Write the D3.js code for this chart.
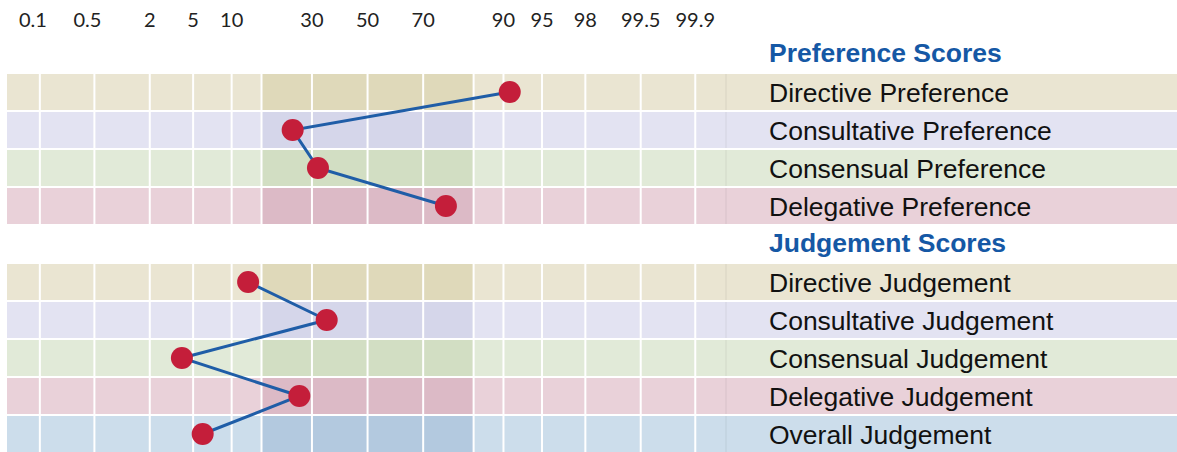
<!DOCTYPE html>
<html>
<head>
<meta charset="utf-8">
<script src="https://cdn.jsdelivr.net/npm/d3@7"></script>
<style>
  body { margin: 0; background: #fff; }
  svg { display: block; }
</style>
</head>
<body>
<div id="chart"></div>
<script>
// percentile values
const prefLabels = ['Directive Preference', 'Consultative Preference', 'Consensual Preference', 'Delegative Preference'];
const prefValues = [91, 24, 32, 77];
const judgeLabels = ['Directive Judgement', 'Consultative Judgement', 'Consensual Judgement', 'Delegative Judgement', 'Overall Judgement'];
const judgeValues = [13, 35, 4, 26, 6];
const groupTitles = ['Preference Scores', 'Judgement Scores'];
const tickValues = [0.1, 0.5, 2, 5, 10, 30, 50, 70, 90, 95, 98, 99.5, 99.9];
const bandEdges = [-1, 1]; // mean +/- 1 sd, in z units

const WIDTH = 1177, HEIGHT = 452;
const GRID_LEFT = 7, GRID_RIGHT = 726, LABEL_X = 769;

const palette = {
  Directive: { light: '#EAE5D2', dark: '#DFD9BA' },
  Consultative: { light: '#E3E3F2', dark: '#D5D6EA' },
  Consensual: { light: '#E1EAD8', dark: '#D2DEC3' },
  Delegative: { light: '#E9D1D9', dark: '#DCBAC6' },
  Overall: { light: '#CCDDEB', dark: '#B3C9DF' }
};

// inverse normal cdf (Acklam)
function probit(p) {
  const a = [-3.969683028665376e+01, 2.209460984245205e+02, -2.759285104469687e+02, 1.383577518672690e+02, -3.066479806614716e+01, 2.506628277459239e+00];
  const b = [-5.447609879822406e+01, 1.615858368580409e+02, -1.556989798598866e+02, 6.680131188771972e+01, -1.328068155288572e+01];
  const c = [-7.784894002430293e-03, -3.223964580411365e-01, -2.400758277161838e+00, -2.549671084180743e+00, 4.374664141464968e+00, 2.938163982698783e+00];
  const d = [7.784695709041462e-03, 3.224671290700398e-01, 2.445134137142996e+00, 3.754408661907416e+00];
  const pl = 0.02425;
  let q, r;
  if (p < pl) {
    q = Math.sqrt(-2 * Math.log(p));
    return (((((c[0]*q+c[1])*q+c[2])*q+c[3])*q+c[4])*q+c[5]) / ((((d[0]*q+d[1])*q+d[2])*q+d[3])*q+1);
  }
  if (p <= 1 - pl) {
    q = p - 0.5; r = q * q;
    return (((((a[0]*r+a[1])*r+a[2])*r+a[3])*r+a[4])*r+a[5])*q / (((((b[0]*r+b[1])*r+b[2])*r+b[3])*r+b[4])*r+1);
  }
  q = Math.sqrt(-2 * Math.log(1 - p));
  return -(((((c[0]*q+c[1])*q+c[2])*q+c[3])*q+c[4])*q+c[5]) / ((((d[0]*q+d[1])*q+d[2])*q+d[3])*q+1);
}

const x = d3.scaleLinear().domain([-3.40, 3.38]).range([GRID_LEFT, GRID_RIGHT]);
const xp = v => x(probit(v / 100));

const rowKeys = ['hPref', ...prefLabels, 'hJudge', ...judgeLabels];
const y = d3.scaleBand().domain(rowKeys).range([36, 36 + rowKeys.length * 38]);

const svg = d3.select('#chart').append('svg')
  .attr('width', WIDTH)
  .attr('height', HEIGHT);

// tick labels on top
svg.append('g')
  .selectAll('text')
  .data(tickValues)
  .join('text')
    .attr('x', d => xp(d))
    .attr('dx', d => d < 1 ? -7 : 0)
    .attr('y', 27)
    .attr('text-anchor', 'middle')
    .attr('font-family', 'Lato, sans-serif')
    .attr('font-size', 20)
    .attr('fill', '#222')
    .text(d => d);

const dataRows = [...prefLabels, ...judgeLabels];
const rowColor = label => palette[label.split(' ')[0]];

const rows = svg.append('g')
  .selectAll('g')
  .data(dataRows)
  .join('g')
    .attr('transform', d => `translate(0, ${y(d)})`);

rows.append('rect')
  .attr('x', GRID_LEFT)
  .attr('width', WIDTH - GRID_LEFT)
  .attr('height', y.bandwidth() - 2)
  .attr('fill', d => rowColor(d).light);

rows.append('rect')
  .attr('x', x(bandEdges[0]))
  .attr('width', x(bandEdges[1]) - x(bandEdges[0]))
  .attr('height', y.bandwidth() - 2)
  .attr('fill', d => rowColor(d).dark);

rows.append('line')
  .attr('x1', GRID_RIGHT).attr('x2', GRID_RIGHT)
  .attr('y1', 0).attr('y2', y.bandwidth() - 2)
  .attr('stroke', 'rgba(0,0,0,0.07)')
  .attr('stroke-width', 1);

rows.append('text')
  .attr('x', LABEL_X)
  .attr('y', 27.5)
  .attr('font-family', '"Liberation Sans", Arial, sans-serif')
  .attr('font-size', 26.5)
  .attr('fill', '#111')
  .text(d => d);

// white grid lines over the rows
const gridZ = [...tickValues.map(v => probit(v / 100)), ...bandEdges];
svg.append('g')
  .selectAll('line')
  .data(gridZ)
  .join('line')
    .attr('x1', d => x(d)).attr('x2', d => x(d))
    .attr('y1', y(prefLabels[0])).attr('y2', HEIGHT)
    .attr('stroke', '#fff')
    .attr('stroke-width', 2);

// blank out the header row gap
svg.append('rect')
  .attr('x', 0).attr('width', WIDTH)
  .attr('y', y('hJudge') - 2).attr('height', y.bandwidth())
  .attr('fill', '#fff');

svg.append('g')
  .selectAll('text')
  .data(groupTitles)
  .join('text')
    .attr('x', LABEL_X)
    .attr('y', (d, i) => y(i === 0 ? 'hPref' : 'hJudge') + 26)
    .attr('font-family', '"Liberation Sans", Arial, sans-serif')
    .attr('font-size', 26.5)
    .attr('font-weight', 'bold')
    .attr('fill', '#1558A5')
    .text(d => d);

// profile lines + dots
const groups = [
  { labels: prefLabels, values: prefValues },
  { labels: judgeLabels, values: judgeValues }
];

const line = d3.line()
  .x(d => xp(d.v))
  .y(d => y(d.label) + (y.bandwidth() - 2) / 2);

groups.forEach(g => {
  const pts = g.labels.map((label, i) => ({ label, v: g.values[i] }));

  svg.append('path')
    .datum(pts)
    .attr('d', line)
    .attr('fill', 'none')
    .attr('stroke', '#1F5DA7')
    .attr('stroke-width', 3);

  svg.append('g')
    .selectAll('circle')
    .data(pts)
    .join('circle')
      .attr('cx', d => xp(d.v))
      .attr('cy', d => y(d.label) + (y.bandwidth() - 2) / 2)
      .attr('r', 11)
      .attr('fill', '#C41E3A');
});
</script>
</body>
</html>
